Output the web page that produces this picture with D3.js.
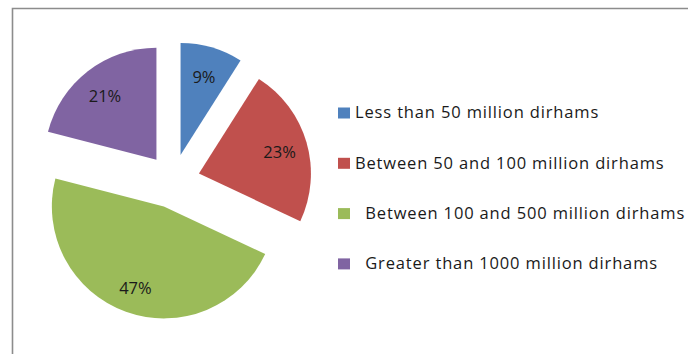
<!DOCTYPE html>
<meta charset="utf-8">
<style>
body { margin: 0; background: #fff; }
svg { display: block; }
.pct, .legend text { font-family: "Open Sans", Lato, sans-serif; }
</style>
<svg width="688" height="354"></svg>
<script src="https://d3js.org/d3.v7.min.js"></script>
<script>

// company size classes (share of companies, %)
var categories = [
  "Less than 50 million dirhams",
  "Between 50 and 100 million dirhams",
  "\u00a0\u00a0Between 100 and 500 million dirhams",
  "\u00a0\u00a0Greater than 1000 million dirhams"
];
var values = [9, 23, 47, 21];
var colors = ["#4f81bd", "#c0504d", "#9bbb59", "#8064a2"];

var svg = d3.select("svg"),
    cx = 173, cy = 181,
    radius = 112,
    explode = 27;

// chart frame (only top and left edges show in the crop)
svg.append("path")
    .attr("d", "M12.5,354V8.5H688")
    .attr("fill", "none")
    .attr("stroke", "#8c8c8c")
    .attr("stroke-width", 1.6);

var pie = d3.pie().sort(null).value(function(d) { return d; });
var arc = d3.arc().innerRadius(0).outerRadius(radius);
var arcs = pie(values);

function mid(d) { return (d.startAngle + d.endAngle) / 2; }

var g = svg.append("g").attr("transform", "translate(" + cx + "," + cy + ")");

var slice = g.selectAll("g.slice")
    .data(arcs)
  .enter().append("g")
    .attr("class", "slice")
    .attr("transform", function(d) {
      var a = mid(d);
      return "translate(" + (explode * Math.sin(a)) + "," + (-explode * Math.cos(a)) + ")";
    });

slice.append("path")
    .attr("d", arc)
    .attr("fill", function(d, i) { return colors[i]; });

slice.append("text")
    .attr("class", "pct")
    .attr("x", function(d) { return 0.75 * radius * Math.sin(mid(d)); })
    .attr("y", function(d) { return -0.75 * radius * Math.cos(mid(d)); })
    .attr("dy", "0.5em")
    .attr("text-anchor", "middle")
    .attr("font-size", 16.5)
    .attr("fill", "#1a1a1a")
    .text(function(d) { return d.value + "%"; });

var legend = svg.append("g")
    .attr("class", "legend")
    .selectAll("g")
    .data(categories)
  .enter().append("g")
    .attr("transform", function(d, i) { return "translate(338," + (112.5 + i * 50.3) + ")"; });

legend.append("rect")
    .attr("x", 0)
    .attr("y", -5)
    .attr("width", 12)
    .attr("height", 11)
    .attr("fill", function(d, i) { return colors[i]; });

legend.append("text")
    .attr("x", 17)
    .attr("dy", "0.36em")
    .attr("font-size", 16.5)
    .attr("letter-spacing", 0.85)
    .attr("fill", "#1a1a1a")
    .text(function(d) { return d; });

</script>
